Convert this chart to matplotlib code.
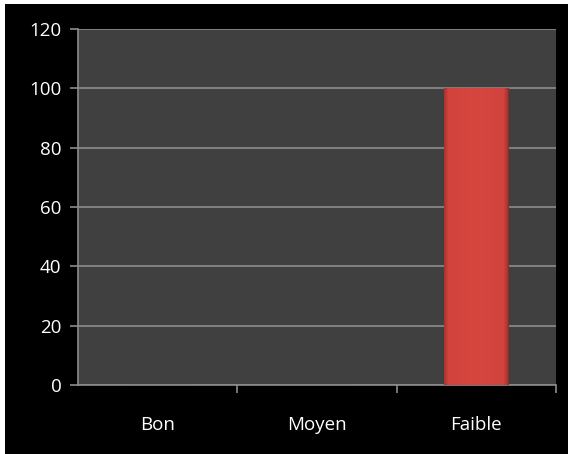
import matplotlib

matplotlib.use("Agg")

import matplotlib.pyplot as plt
import numpy as np
from matplotlib.colors import LinearSegmentedColormap

categories = ["Bon", "Moyen", "Faible"]
values = [0, 0, 100]
y_ticks = [0, 20, 40, 60, 80, 100, 120]

fig = plt.figure(figsize=(5.68, 4.54), dpi=100, facecolor="white")
# black chart area (the image has a thin white strip at left and top)
bg = fig.add_axes([5 / 568, 0, 1 - 5 / 568, 1 - 4 / 454])
bg.set_facecolor("black")
bg.set_xticks([])
bg.set_yticks([])
for s in bg.spines.values():
    s.set_visible(False)

ax = fig.add_axes([78 / 568, 1 - 385 / 454, (556 - 78) / 568, (385 - 29) / 454])
ax.set_facecolor("#404040")

x = np.arange(len(categories))
bars = ax.bar(x, values, width=0.4, color="#d4443f", edgecolor="#8e2a27", linewidth=0.8, zorder=3)

# mostly flat red with darker rims
cmap = LinearSegmentedColormap.from_list(
    "redbar",
    [(0.0, "#a83330"), (0.07, "#d2433e"), (0.5, "#d6463f"), (0.93, "#d2433e"), (1.0, "#a83330")],
)
grad = np.linspace(0, 1, 256).reshape(1, -1)
for b in bars:
    if b.get_height() <= 0:
        continue
    im = ax.imshow(grad, cmap=cmap, aspect="auto", zorder=3.5,
                   extent=[b.get_x(), b.get_x() + b.get_width(), 0, b.get_height()])
    im.set_clip_path(b)

ax.set_xlim(-0.5, 2.5)
ax.set_ylim(0, 120)
ax.set_yticks(y_ticks)
ax.set_xticks(x)
ax.set_xticklabels(categories)
ax.set_xticks([0.5, 1.5, 2.5], minor=True)
ax.grid(axis="y", color="#8c8c8c", linewidth=1.2, zorder=1)

for side in ["top", "right"]:
    ax.spines[side].set_visible(False)
for side in ["left", "bottom"]:
    ax.spines[side].set_color("#8c8c8c")
    ax.spines[side].set_linewidth(1.2)

ax.tick_params(axis="y", colors="#8c8c8c", labelcolor="white", length=6, width=1.2,
               labelsize=13.5, pad=6)
ax.tick_params(axis="x", which="major", length=0, labelcolor="white", labelsize=13.5, pad=22)
ax.tick_params(axis="x", which="minor", colors="#8c8c8c", length=6, width=1.2)
for lab in ax.get_xticklabels() + ax.get_yticklabels():
    lab.set_family(["Open Sans", "DejaVu Sans"])

fig.savefig("out.png", dpi=100, facecolor="white")
plt.close(fig)
